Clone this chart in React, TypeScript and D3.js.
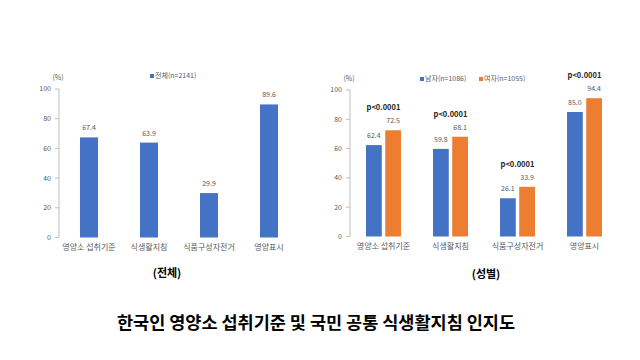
import React from "react";
import * as d3 from "d3";

const categories = ["영양소 섭취기준", "식생활지침", "식품구성자전거", "영양표시"];
const totalValues = [67.4, 63.9, 29.9, 89.6];
const maleValues = [62.4, 59.8, 26.1, 85.0];
const femaleValues = [72.5, 68.1, 33.9, 94.4];
const pValues = ["p<0.0001", "p<0.0001", "p<0.0001", "p<0.0001"];
const yTicks = [0, 20, 40, 60, 80, 100];
const totalLegend = "전체(n=2141)";
const maleLegend = "남자(n=1086)";
const femaleLegend = "여자(n=1055)";
const leftSubtitle = "(전체)";
const rightSubtitle = "(성별)";
const mainTitle = "한국인 영양소 섭취기준 및 국민 공통 식생활지침 인지도";

const BLUE = "#4472C4";
const ORANGE = "#ED7D31";
const TEXT = "#595959";
const AXIS = "#BFBFBF";
const FONT = "'Noto Sans CJK KR', 'Noto Sans', sans-serif";

function YAxis({ x, y }: { x: number; y: d3.ScaleLinear<number, number> }) {
  const [r0, r1] = y.range();
  return (
    <g>
      <line x1={x} x2={x} y1={r0} y2={r1} stroke={AXIS} strokeWidth={1} />
      {yTicks.map((t) => (
        <g key={t}>
          <line x1={x - 4} x2={x} y1={y(t)} y2={y(t)} stroke={AXIS} strokeWidth={1} />
          <text x={x - 8} y={y(t)} dy="0.35em" textAnchor="end" fontSize={7} fill={TEXT}>
            {t}
          </text>
        </g>
      ))}
      <text x={x - 1} y={r1 - 9} textAnchor="middle" fontSize={7} fill={TEXT}>(%)</text>
    </g>
  );
}

export default function App() {
  // Left chart
  const xL = d3.scaleBand<string>().domain(categories).range([59, 299]).paddingInner(0.7).paddingOuter(0.35);
  const yL = d3.scaleLinear().domain([0, 100]).range([237.5, 89]);

  // Right chart
  const xR = d3.scaleBand<string>().domain(categories).range([350, 618]).paddingInner(0.478).paddingOuter(0.239);
  const xS = d3.scaleBand<string>().domain(["m", "f"]).range([0, xR.bandwidth()]).paddingInner(0.18);
  const yR = d3.scaleLinear().domain([0, 100]).range([236.5, 90]);

  return (
    <svg width={640} height={360} style={{ position: "absolute", left: 0, top: 0, background: "#fff" }} fontFamily={FONT}>
      <rect width={640} height={360} fill="#fff" />
      {/* Left chart */}
      <YAxis x={59} y={yL} />
      <rect x={150} y={74} width={4} height={4} fill={BLUE} />
      <text x={155} y={76} dy="0.35em" fontSize={7} fill={TEXT}>{totalLegend}</text>
      {categories.map((c, i) => (
        <g key={c}>
          <rect x={xL(c)} y={yL(totalValues[i])} width={xL.bandwidth()} height={yL(0) - yL(totalValues[i])} fill={BLUE} />
          <text x={xL(c)! + xL.bandwidth() / 2} y={yL(totalValues[i]) - 7} textAnchor="middle" fontSize={7} fill={TEXT}>
            {totalValues[i].toFixed(1)}
          </text>
          <text x={xL(c)! + xL.bandwidth() / 2} y={247} dy="0.35em" textAnchor="middle" fontSize={8} fill={TEXT}>
            {c}
          </text>
        </g>
      ))}
      <text x={167} y={273} dy="0.35em" textAnchor="middle" fontSize={11} fontWeight="bold" fill="#000">{leftSubtitle}</text>

      {/* Right chart */}
      <YAxis x={350} y={yR} />
      <rect x={420} y={77} width={4} height={4} fill={BLUE} />
      <text x={425} y={79} dy="0.35em" fontSize={7} fill={TEXT}>{maleLegend}</text>
      <rect x={479} y={77} width={4} height={4} fill={ORANGE} />
      <text x={484} y={79} dy="0.35em" fontSize={7} fill={TEXT}>{femaleLegend}</text>
      {categories.map((c, i) => {
        const gx = xR(c)!;
        const mx = gx + xS("m")!;
        const fx = gx + xS("f")!;
        const bw = xS.bandwidth();
        const top = Math.min(yR(maleValues[i]), yR(femaleValues[i]));
        return (
          <g key={c}>
            <rect x={mx} y={yR(maleValues[i])} width={bw} height={yR(0) - yR(maleValues[i])} fill={BLUE} />
            <rect x={fx} y={yR(femaleValues[i])} width={bw} height={yR(0) - yR(femaleValues[i])} fill={ORANGE} />
            <text x={mx + bw / 2} y={yR(maleValues[i]) - 7} textAnchor="middle" fontSize={7} fill={TEXT}>
              {maleValues[i].toFixed(1)}
            </text>
            <text x={fx + bw / 2} y={yR(femaleValues[i]) - 7} textAnchor="middle" fontSize={7} fill={TEXT}>
              {femaleValues[i].toFixed(1)}
            </text>
            <text x={gx + xR.bandwidth() / 2} y={top - 20} textAnchor="middle" fontSize={7.5} fontWeight="bold" fill="#262626">
              {pValues[i]}
            </text>
            <text x={gx + xR.bandwidth() / 2} y={246} dy="0.35em" textAnchor="middle" fontSize={8} fill={TEXT}>
              {c}
            </text>
          </g>
        );
      })}
      <text x={486} y={274} dy="0.35em" textAnchor="middle" fontSize={11} fontWeight="bold" fill="#000">{rightSubtitle}</text>

      <text x={316} y={323} dy="0.35em" textAnchor="middle" fontSize={17.5} fontWeight="bold" fill="#000">{mainTitle}</text>
    </svg>
  );
}
